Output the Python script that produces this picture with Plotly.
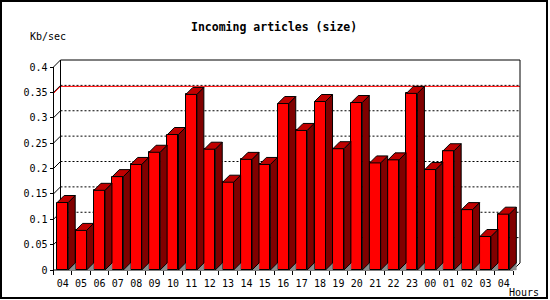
import plotly.graph_objects as go

# ---- data ----
hours = ["04", "05", "06", "07", "08", "09", "10", "11", "12", "13", "14", "15",
         "16", "17", "18", "19", "20", "21", "22", "23", "00", "01", "02", "03", "04"]
kbsec = [0.133, 0.078, 0.157, 0.184, 0.208, 0.232, 0.267, 0.346, 0.238, 0.173,
         0.218, 0.208, 0.328, 0.275, 0.332, 0.239, 0.330, 0.211, 0.217, 0.348,
         0.198, 0.235, 0.119, 0.066, 0.110]
y_ticks = [0, 0.05, 0.1, 0.15, 0.2, 0.25, 0.3, 0.35, 0.4]
y_ticktext = ["0", "0.05", "0.1", "0.15", "0.2", "0.25", "0.3", "0.35", "0.4"]
title = "Incoming articles (size)"
y_title = "Kb/sec"
x_title = "Hours"

# ---- geometry (pixels) ----
W, H = 550, 300
PL, PR, PT, PB = 48, 527, 55, 274          # plot area in pixels
AX_X0, AX_X1 = 53.5, 513.0                  # front x-axis extent
AX_Y0 = 270.0                               # pixel of value 0
YMAX = 0.4
K = (AX_Y0 - 67.0) / YMAX                   # px per unit y
n = len(hours)
S = (AX_X1 - AX_X0) / n                     # px per category
DEPTH = 7.0
dx = DEPTH / S
dy = DEPTH / K
bw = 0.6

xr0 = -0.5 + (PL - AX_X0) / S
xr1 = -0.5 + (PR - AX_X0) / S
yr0 = (AX_Y0 - PB) / K
yr1 = (AX_Y0 - PT) / K


def px(xp):
    return (xp - PL) / (PR - PL)


def py(yp):
    return (PB - yp) / (PB - PT)


xs = list(range(n))
FONT = "DejaVu Sans Mono"

fig = go.Figure()

# front faces
fig.add_trace(go.Bar(x=xs, y=kbsec, width=bw,
                     marker=dict(color="#FF0000", line=dict(color="black", width=1)),
                     hoverinfo="skip", showlegend=False))

# floor shadows, side faces, top faces
gx, gy, sx, sy, tx, ty = [], [], [], [], [], []
for i, v in zip(xs, kbsec):
    xl, xr = i - bw / 2, i + bw / 2
    gx += [xr, xr + dx, xr + dx, xr, None]
    gy += [0, dy, 0, 0, None]
    sx += [xr, xr, xr + dx, xr + dx, xr, None]
    sy += [0, v, v + dy, dy, 0, None]
    tx += [xl, xl + dx, xr + dx, xr, xl, None]
    ty += [v, v + dy, v + dy, v, v, None]

fig.add_trace(go.Scatter(x=gx, y=gy, mode="lines", fill="toself", fillcolor="#8C8C8C",
                         line=dict(color="#8C8C8C", width=0.5), hoverinfo="skip", showlegend=False))
fig.add_trace(go.Scatter(x=sx, y=sy, mode="lines", fill="toself", fillcolor="#800000",
                         line=dict(color="black", width=1), hoverinfo="skip", showlegend=False))
fig.add_trace(go.Scatter(x=tx, y=ty, mode="lines", fill="toself", fillcolor="#C00000",
                         line=dict(color="black", width=1), hoverinfo="skip", showlegend=False))

shapes = []
L, R = -0.5, n - 0.5


def seg(x0, y0, x1, y1, color="black", width=1, dash=None, layer="below"):
    d = dict(type="line", xref="x", yref="y", x0=x0, y0=y0, x1=x1, y1=y1,
             line=dict(color=color, width=width), layer=layer)
    if dash:
        d["line"]["dash"] = dash
    shapes.append(d)


# gridlines on back wall
for v in y_ticks[1:-1]:
    seg(L, v, L + dx, v + dy)
    seg(L + dx, v + dy, R + dx, v + dy, dash="2px,2px")

# max line
m = max(kbsec)
seg(L, m, L + dx, m + dy, color="#FF0000")
seg(L + dx, m + dy, R + dx, m + dy, color="#FF0000")

# frame
seg(L, 0, L, YMAX)
seg(L, YMAX, L + dx, YMAX + dy)
seg(L + dx, YMAX + dy, R + dx, YMAX + dy)
seg(L + dx, dy, L + dx, YMAX + dy)
seg(R + dx, dy, R + dx, YMAX + dy)
seg(L, 0, R, 0)
seg(R, 0, R + dx, dy)

# outer border
shapes.append(dict(type="rect", xref="paper", yref="paper",
                   x0=px(1), x1=px(547), y0=py(1), y1=py(298),
                   line=dict(color="black", width=2), fillcolor="rgba(0,0,0,0)", layer="above"))

annotations = [
    dict(text="<b>" + title + "</b>", xref="paper", yref="paper", x=px(274), y=py(27),
         xanchor="center", yanchor="middle", showarrow=False,
         font=dict(family=FONT, size=11.5, color="black")),
    dict(text=y_title, xref="paper", yref="paper", x=px(28), y=py(37),
         xanchor="left", yanchor="middle", showarrow=False,
         font=dict(family=FONT, size=10, color="black")),
    dict(text=x_title, xref="paper", yref="paper", x=px(507), y=py(292),
         xanchor="left", yanchor="middle", showarrow=False,
         font=dict(family=FONT, size=10, color="black")),
]

fig.update_layout(
    width=W, height=H,
    margin=dict(l=PL, r=W - PR, t=PT, b=H - PB, pad=0),
    paper_bgcolor="white", plot_bgcolor="white",
    showlegend=False, bargap=0,
    shapes=shapes, annotations=annotations,
    xaxis=dict(range=[xr0, xr1], tickmode="array", tickvals=xs, ticktext=hours,
               ticks="outside", ticklen=4, tickcolor="rgba(0,0,0,0)",
               minor=dict(tickmode="array", tickvals=[i - 0.5 for i in range(n + 1)],
                          ticks="outside", ticklen=4, tickcolor="black", tickwidth=1, showgrid=False),
               showgrid=False, zeroline=False, showline=False,
               anchor="free", position=py(AX_Y0),
               tickfont=dict(family=FONT, size=10, color="black")),
    yaxis=dict(range=[yr0, yr1], tickmode="array", tickvals=y_ticks, ticktext=y_ticktext,
               ticks="outside", ticklen=4, tickcolor="black", tickwidth=1,
               showgrid=False, zeroline=False, showline=False,
               anchor="free", position=px(AX_X0),
               tickfont=dict(family=FONT, size=10, color="black")),
)

fig.write_html("out.html")
